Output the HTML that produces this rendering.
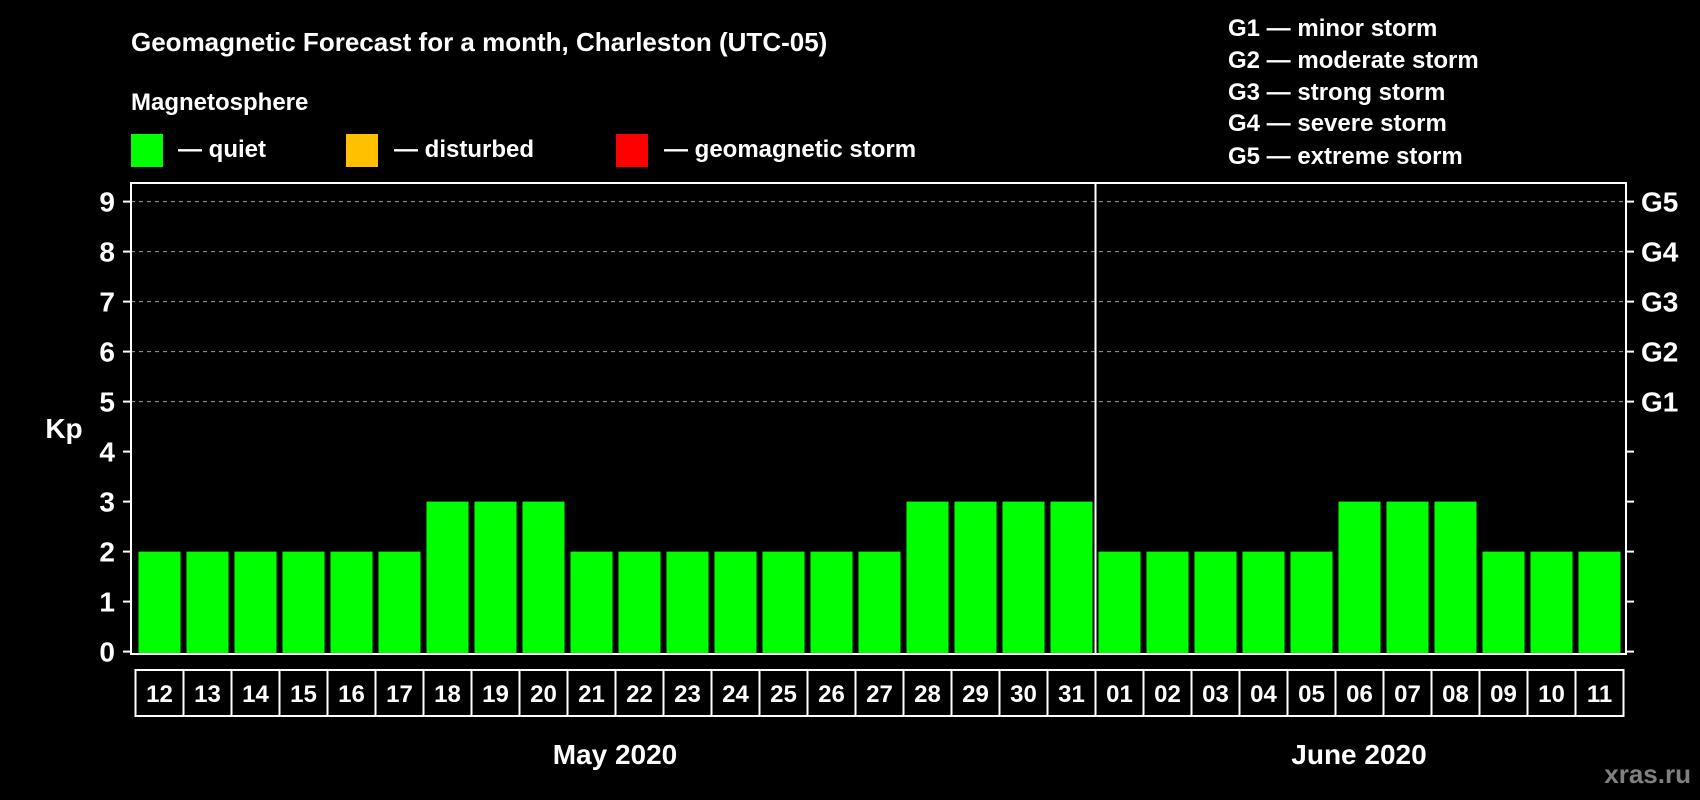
<!DOCTYPE html>
<html><head><meta charset="utf-8"><style>
html,body{margin:0;padding:0;background:#000;}
svg{display:block;font-family:"Liberation Sans",Arial,sans-serif;font-weight:bold;}
</style></head><body>
<svg id="chart" width="1700" height="800" viewBox="0 0 1700 800">
<rect x="0" y="0" width="1700" height="800" fill="#000"/>
<text x="131" y="51" fill="#fff" font-size="26">Geomagnetic Forecast for a month, Charleston (UTC-05)</text>
<text x="131" y="110" fill="#fff" font-size="24">Magnetosphere</text>
<g>
<rect x="131" y="134" width="32" height="33" fill="#00ff00"/>
<text x="178" y="157" fill="#fff" font-size="24">— quiet</text></g>
<g>
<rect x="346" y="134" width="32" height="33" fill="#ffc000"/>
<text x="394" y="157" fill="#fff" font-size="24">— disturbed</text></g>
<g>
<rect x="616" y="134" width="32" height="33" fill="#ff0000"/>
<text x="664" y="157" fill="#fff" font-size="24">— geomagnetic storm</text></g>
<g fill="#fff" font-size="24">
<text x="1228" y="36">G1 — minor storm</text>
<text x="1228" y="68">G2 — moderate storm</text>
<text x="1228" y="100">G3 — strong storm</text>
<text x="1228" y="131">G4 — severe storm</text>
<text x="1228" y="164">G5 — extreme storm</text>
</g>
<text x="64" y="438" fill="#fff" font-size="28" text-anchor="middle">Kp</text>
<g id="grid"></g><g id="bars"></g><g id="axes"></g>
<text x="615" y="764" fill="#fff" font-size="28" text-anchor="middle">May 2020</text>
<text x="1359" y="764" fill="#fff" font-size="28" text-anchor="middle">June 2020</text>
<text x="1691" y="783" fill="#808080" font-size="26" text-anchor="end">xras.ru</text>
</svg>
<script>
const days = ["12","13","14","15","16","17","18","19","20","21","22","23","24","25","26","27","28","29","30","31","01","02","03","04","05","06","07","08","09","10","11"];
const kpValues = [2,2,2,2,2,2,3,3,3,2,2,2,2,2,2,2,3,3,3,3,2,2,2,2,2,3,3,3,2,2,2];
const yTicks = [0,1,2,3,4,5,6,7,8,9];
const gLabels = ["G1","G2","G3","G4","G5"];
const gLevels = [5,6,7,8,9];
const monthSplitIndex = 20;

const NS="http://www.w3.org/2000/svg";
const plotL=131, plotR=1626, plotT=183, plotB=654;
const slotX0=135.5, slotW=48;
const y0=651.6, unit=50;
function yScale(v){return y0-v*unit;}
function xScale(i){return slotX0+i*slotW;}
function mk(tag,attrs,parent){const e=document.createElementNS(NS,tag);for(const k in attrs)e.setAttribute(k,attrs[k]);parent.appendChild(e);return e;}
const grid=document.getElementById('grid'), bars=document.getElementById('bars'), axes=document.getElementById('axes');
function barColor(v){return v>=5?"#ff0000":(v>=4?"#ffc000":"#00ff00");}

gLevels.forEach(function(v){
  const l=mk('line',{x1:plotL,x2:plotR,y1:yScale(v),y2:yScale(v),stroke:'#9a9a9a','stroke-width':1,'stroke-dasharray':'4,4'},grid);
  
  
});
kpValues.forEach(function(v,i){
  const r=mk('rect',{x:xScale(i)+3,y:yScale(v),width:42,height:plotB-yScale(v),fill:barColor(v)},bars);
  
  
});
const frame=mk('rect',{x:plotL,y:plotT,width:plotR-plotL,height:plotB-plotT,fill:'none',stroke:'#fff','stroke-width':2},axes);


const div=mk('line',{x1:xScale(monthSplitIndex),x2:xScale(monthSplitIndex),y1:plotT,y2:plotB,stroke:'#fff','stroke-width':2},axes);


yTicks.forEach(function(v){
  const y=yScale(v);
  const t=mk('line',{x1:123,x2:plotL,y1:y,y2:y,stroke:'#fff','stroke-width':2},axes);
  
  
  const t2=mk('line',{x1:plotR,x2:plotR+8,y1:y,y2:y,stroke:'#fff','stroke-width':2},axes);
  
  
  const lb=mk('text',{x:115,y:y+10,fill:'#fff','font-size':28,'text-anchor':'end'},axes);
  lb.textContent=v;
  
  
});
gLabels.forEach(function(g,i){
  const lb=mk('text',{x:1641,y:yScale(gLevels[i])+10,fill:'#fff','font-size':28},axes);
  lb.textContent=g;
  
  
});
const dayBox=mk('rect',{x:slotX0,y:670,width:slotW*days.length,height:46,fill:'none',stroke:'#fff','stroke-width':2},axes);


days.forEach(function(d,i){
  if(i>0){
    const s=mk('line',{x1:xScale(i),x2:xScale(i),y1:670,y2:716,stroke:'#fff','stroke-width':2},axes);
    
    
  }
  const t=mk('text',{x:xScale(i)+slotW/2,y:702,fill:'#fff','font-size':24,'text-anchor':'middle'},axes);
  t.textContent=d;
  
  
});
</script>
</body></html>
